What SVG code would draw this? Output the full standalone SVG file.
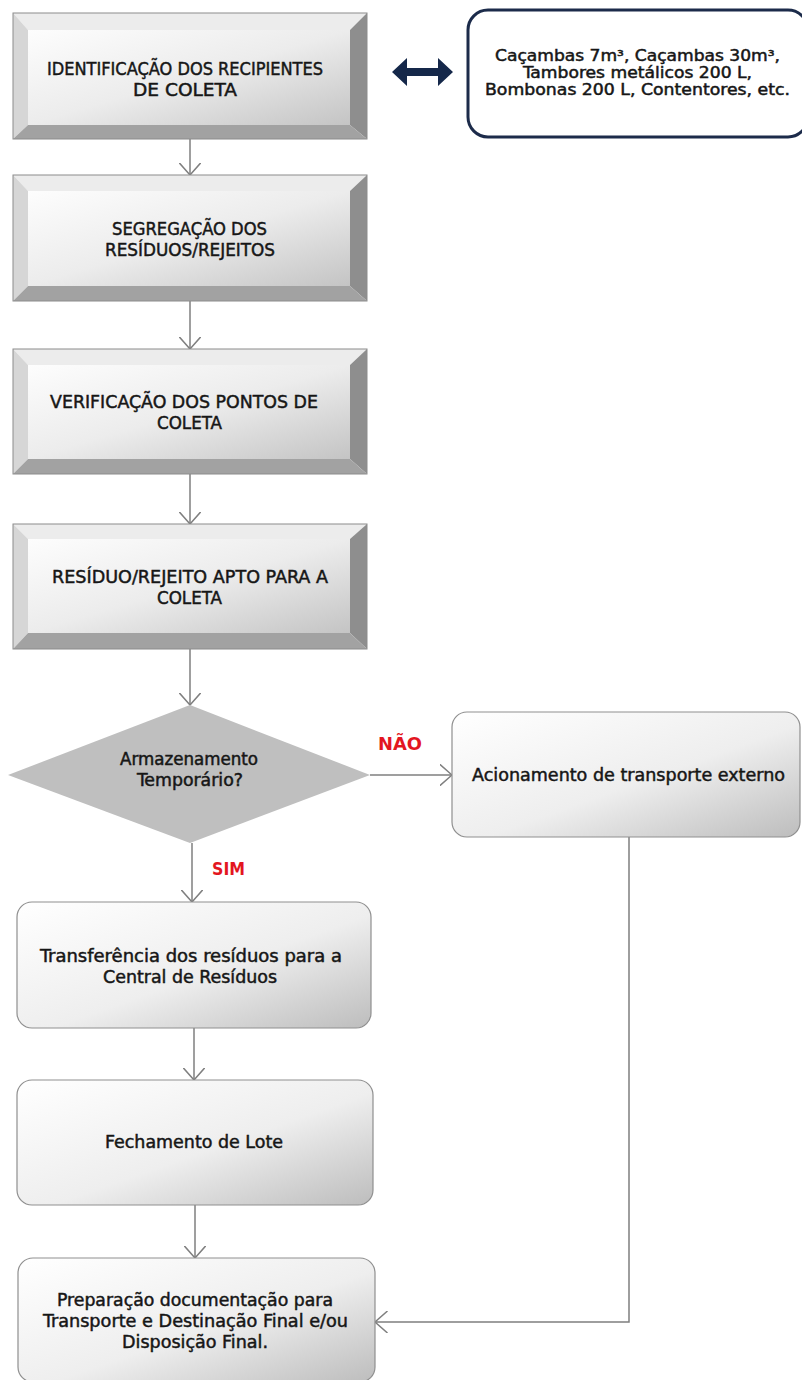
<svg xmlns="http://www.w3.org/2000/svg" width="802" height="1380" viewBox="0 0 802 1380">
<defs>
<style>
.t{font-family:"DejaVu Sans Condensed","DejaVu Sans",sans-serif;font-size:18px;fill:#161616;stroke:#161616;stroke-width:0.45;text-anchor:start}
.c{font-size:18.5px}
.red{font-family:"DejaVu Sans Condensed","DejaVu Sans",sans-serif;font-size:17px;font-weight:bold;fill:#e3161f}
.edge{fill:none;stroke:#7f7f7f;stroke-width:1.5}
.bo{fill:none;stroke:#8c8c8c;stroke-width:1}
.btop{fill:#ececec}
.bleft{fill:#d6d6d6}
.bright{fill:#8e8e8e}
.bbot{fill:#a2a2a2}
.face{fill:url(#gface)}
.rbox{fill:url(#grnd);stroke:#8f8f8f;stroke-width:1.2}
</style>
<linearGradient id="gface" x1="0" y1="0" x2="1" y2="1">
<stop offset="0" stop-color="#fdfdfd"/>
<stop offset="0.5" stop-color="#ececec"/>
<stop offset="1" stop-color="#c4c4c4"/>
</linearGradient>
<linearGradient id="grnd" x1="0" y1="0" x2="1" y2="1">
<stop offset="0" stop-color="#ffffff"/>
<stop offset="0.55" stop-color="#eeeeee"/>
<stop offset="1" stop-color="#bdbdbd"/>
</linearGradient>
<marker id="ah" viewBox="0 0 13 22" refX="12.5" refY="11" markerWidth="13" markerHeight="22" markerUnits="userSpaceOnUse" orient="auto">
<path d="M0,0 L12.5,11 L0,22" fill="none" stroke="#7f7f7f" stroke-width="1.5"/>
</marker>
</defs>
<rect width="802" height="1380" fill="#ffffff"/>

<g id="connectors">
<line class="edge" x1="190" y1="139" x2="190" y2="175" marker-end="url(#ah)"/>
<line class="edge" x1="190" y1="301" x2="190" y2="349" marker-end="url(#ah)"/>
<line class="edge" x1="190" y1="474" x2="190" y2="524" marker-end="url(#ah)"/>
<line class="edge" x1="190" y1="649" x2="190" y2="705" marker-end="url(#ah)"/>
<line class="edge" x1="370" y1="775" x2="452" y2="775" marker-end="url(#ah)"/>
<line class="edge" x1="192" y1="843" x2="192" y2="902" marker-end="url(#ah)"/>
<line class="edge" x1="194" y1="1028" x2="194" y2="1080" marker-end="url(#ah)"/>
<line class="edge" x1="195" y1="1205" x2="195" y2="1258" marker-end="url(#ah)"/>
<path class="edge" d="M629,837 V1322 H375" marker-end="url(#ah)"/>
<polygon points="392,72 407,58 407,68 438,68 438,58 453,72 438,86 438,76 407,76 407,86" fill="#15284a"/>
</g>

<g id="n1">
<polygon class="btop" points="13,13 367,13 350,30 28,30"/>
<polygon class="bleft" points="13,13 28,30 28,125 13,139"/>
<polygon class="bright" points="367,13 367,139 350,125 350,30"/>
<polygon class="bbot" points="13,139 28,125 350,125 367,139"/>
<rect class="face" x="28" y="30" width="322" height="95"/>
<rect class="bo" x="13" y="13" width="354" height="126"/>
<text class="t c" x="47" y="75" textLength="276" lengthAdjust="spacingAndGlyphs">IDENTIFICAÇÃO DOS RECIPIENTES</text>
<text class="t c" x="133" y="96" textLength="104" lengthAdjust="spacingAndGlyphs">DE COLETA</text>
</g>

<g id="n2">
<polygon class="btop" points="13,175 367,175 350,191 28,191"/>
<polygon class="bleft" points="13,175 28,191 28,286 13,301"/>
<polygon class="bright" points="367,175 367,301 350,286 350,191"/>
<polygon class="bbot" points="13,301 28,286 350,286 367,301"/>
<rect class="face" x="28" y="191" width="322" height="95"/>
<rect class="bo" x="13" y="175" width="354" height="126"/>
<text class="t c" x="112" y="235" textLength="155" lengthAdjust="spacingAndGlyphs">SEGREGAÇÃO DOS</text>
<text class="t c" x="105" y="256" textLength="170" lengthAdjust="spacingAndGlyphs">RESÍDUOS/REJEITOS</text>
</g>

<g id="n3">
<polygon class="btop" points="13,349 367,349 350,365 28,365"/>
<polygon class="bleft" points="13,349 28,365 28,459 13,474"/>
<polygon class="bright" points="367,349 367,474 350,459 350,365"/>
<polygon class="bbot" points="13,474 28,459 350,459 367,474"/>
<rect class="face" x="28" y="365" width="322" height="94"/>
<rect class="bo" x="13" y="349" width="354" height="125"/>
<text class="t c" x="50" y="408" textLength="268" lengthAdjust="spacingAndGlyphs">VERIFICAÇÃO DOS PONTOS DE</text>
<text class="t c" x="157" y="429" textLength="65" lengthAdjust="spacingAndGlyphs">COLETA</text>
</g>

<g id="n4">
<polygon class="btop" points="13,524 367,524 350,539 28,539"/>
<polygon class="bleft" points="13,524 28,539 28,633 13,649"/>
<polygon class="bright" points="367,524 367,649 350,633 350,539"/>
<polygon class="bbot" points="13,649 28,633 350,633 367,649"/>
<rect class="face" x="28" y="539" width="322" height="94"/>
<rect class="bo" x="13" y="524" width="354" height="125"/>
<text class="t c" x="52" y="583" textLength="276" lengthAdjust="spacingAndGlyphs">RESÍDUO/REJEITO  APTO PARA A</text>
<text class="t c" x="157" y="604" textLength="65" lengthAdjust="spacingAndGlyphs">COLETA</text>
</g>

<g id="n5">
<polygon points="190,705 370,775 190,843 8,775" fill="#bfbfbf"/>
<text class="t" x="120" y="765" textLength="138" lengthAdjust="spacingAndGlyphs" style="font-size:17px">Armazenamento</text>
<text class="t" x="137" y="786" textLength="106" lengthAdjust="spacingAndGlyphs" style="font-size:17px">Temporário?</text>
</g>

<g id="lbl-nao">
<text class="red" x="378" y="750" textLength="44" lengthAdjust="spacingAndGlyphs">NÃO</text>
</g>
<g id="lbl-sim">
<text class="red" x="212" y="875" textLength="33" lengthAdjust="spacingAndGlyphs">SIM</text>
</g>

<g id="n6">
<rect class="rbox" x="452" y="712" width="348" height="125" rx="15" ry="15"/>
<text class="t" x="472" y="781" textLength="313" lengthAdjust="spacingAndGlyphs">Acionamento  de transporte externo</text>
</g>

<g id="n7">
<rect class="rbox" x="17" y="902" width="354" height="126" rx="15" ry="15"/>
<text class="t" x="40" y="962" textLength="302" lengthAdjust="spacingAndGlyphs">Transferência dos resíduos para  a</text>
<text class="t" x="103" y="983" textLength="174" lengthAdjust="spacingAndGlyphs">Central de Resíduos</text>
</g>

<g id="n8">
<rect class="rbox" x="17" y="1080" width="356" height="125" rx="15" ry="15"/>
<text class="t" x="105" y="1148" textLength="178" lengthAdjust="spacingAndGlyphs">Fechamento de Lote</text>
</g>

<g id="n9">
<rect class="rbox" x="18" y="1258" width="357" height="124" rx="15" ry="15"/>
<text class="t" x="57" y="1306" textLength="276" lengthAdjust="spacingAndGlyphs">Preparação documentação para</text>
<text class="t" x="43" y="1327" textLength="305" lengthAdjust="spacingAndGlyphs">Transporte e Destinação Final e/ou</text>
<text class="t" x="122" y="1348" textLength="146" lengthAdjust="spacingAndGlyphs">Disposição Final.</text>
</g>

<g id="n10">
<rect x="468" y="10" width="340" height="127" rx="20" ry="20" fill="#ffffff" stroke="#1c2b4a" stroke-width="3"/>
<text class="t" x="495" y="61" textLength="285" lengthAdjust="spacingAndGlyphs" style="font-size:15.5px">Caçambas 7m³, Caçambas 30m³,</text>
<text class="t" x="523" y="78" textLength="229" lengthAdjust="spacingAndGlyphs" style="font-size:15.5px">Tambores metálicos 200 L,</text>
<text class="t" x="485" y="95" textLength="305" lengthAdjust="spacingAndGlyphs" style="font-size:15.5px">Bombonas 200 L, Contentores, etc.</text>
</g>
</svg>
